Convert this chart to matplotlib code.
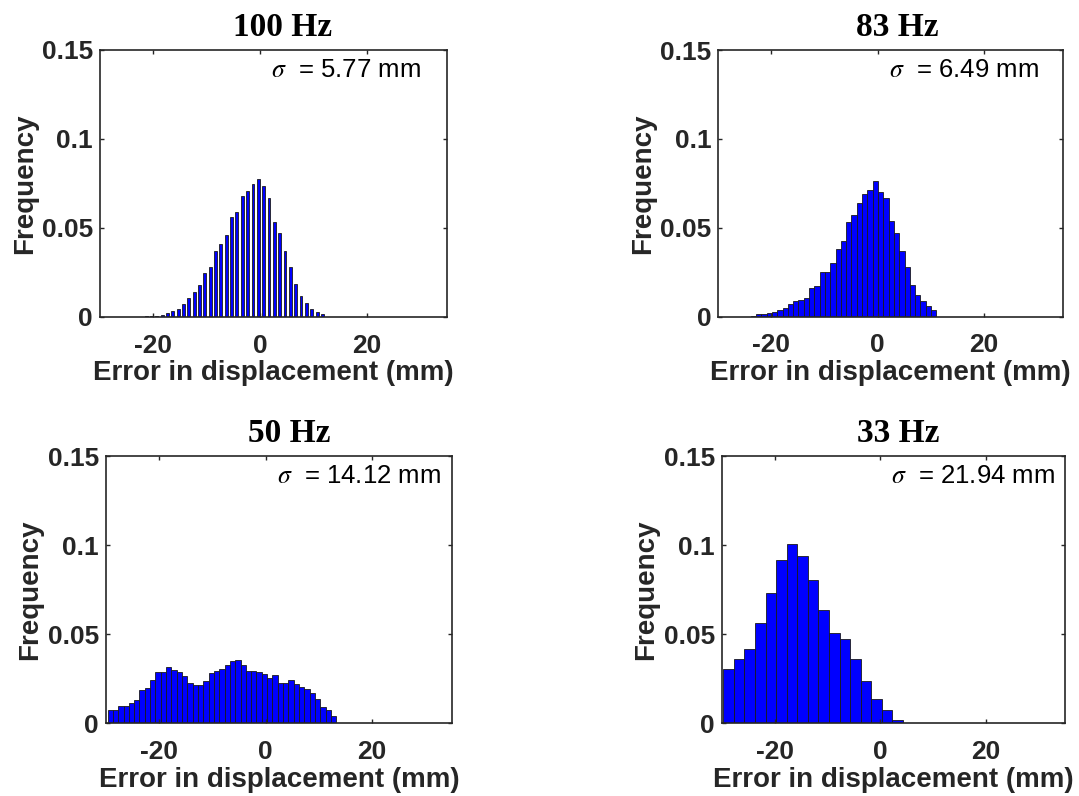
## histograms of displacement error at four sampling rates

from matplotlib import pyplot as plt
import numpy as np

plt.rcParams['font.family'] = ['Liberation Sans', 'DejaVu Sans']
plt.rcParams['mathtext.fontset'] = 'stix'
plt.rcParams['axes.unicode_minus'] = False

## 100 Hz, 1 mm bins (bar centres at k - 0.35)
k100 = np.arange(-27, 13)
f100 = [0.0001, 0.0001, 0.0001, 0.0001, 0.0002, 0.0002, 0.0003, 0.0003,
        0.0006, 0.0009, 0.0021, 0.0034, 0.0047, 0.0073, 0.0109, 0.0140,
        0.0180, 0.0245, 0.0279, 0.0373, 0.0410, 0.0459, 0.0562, 0.0592,
        0.0678, 0.0710, 0.0747, 0.0773, 0.0736, 0.0667, 0.0532, 0.0474,
        0.0369, 0.0283, 0.0187, 0.0120, 0.0077, 0.0047, 0.0028, 0.0015]

## 83 Hz, 1 mm bins (centres at k - 0.4)
k83 = np.arange(-23, 12)
f83 = [0.0006, 0.0013, 0.0015, 0.0019, 0.0025, 0.0038, 0.0047, 0.0070,
       0.0091, 0.0095, 0.0106, 0.0161, 0.0174, 0.0250, 0.0254, 0.0303,
       0.0383, 0.0428, 0.0532, 0.0570, 0.0640, 0.0688, 0.0714, 0.0763,
       0.0699, 0.0669, 0.0536, 0.0473, 0.0369, 0.0280, 0.0180, 0.0125,
       0.0087, 0.0061, 0.0038]

## 50 Hz, 1 mm bins (centres at k - 0.2)
k50 = np.arange(-29, 14)
f50 = [0.0077, 0.0073, 0.0096, 0.0096, 0.0114, 0.0133, 0.0189, 0.0200,
       0.0242, 0.0290, 0.0287, 0.0316, 0.0300, 0.0287, 0.0264, 0.0225,
       0.0215, 0.0215, 0.0238, 0.0285, 0.0292, 0.0307, 0.0328, 0.0350,
       0.0356, 0.0328, 0.0296, 0.0292, 0.0288, 0.0275, 0.0253, 0.0270,
       0.0228, 0.0228, 0.0243, 0.0219, 0.0204, 0.0191, 0.0169, 0.0139,
       0.0094, 0.0073, 0.0043]

## 33 Hz, 2 mm bins
c33 = [-28.7, -26.7, -24.7, -22.7, -20.7, -18.7, -16.7, -14.7, -12.7, -10.7,
       -8.7, -6.7, -4.7, -2.7, -0.7, 1.3, 3.3, 5.3, 7.3, 9.3]
f33 = [0.0303, 0.0361, 0.0418, 0.0564, 0.0732, 0.0918, 0.1004, 0.0940,
       0.0805, 0.0635, 0.0506, 0.0474, 0.0361, 0.0240, 0.0139, 0.0077,
       0.0017, 0.0003, 0.0002, 0.0001]

titles = ['100 Hz', '83 Hz', '50 Hz', '33 Hz']
sigmas = ['5.77', '6.49', '14.12', '21.94']

panels = [
    (k100 - 0.35, f100, 0.55),
    (k83 - 0.4, f83, 1.0),
    (k50 - 0.2, f50, 1.0),
    (np.array(c33), f33, 2.0),
]

## axes boxes in figure fraction [left, bottom, width, height]
boxes = [
    [0.0927, 0.6018, 0.3216, 0.3354],
    [0.6657, 0.6021, 0.3197, 0.3350],
    [0.0982, 0.0913, 0.3204, 0.3358],
    [0.6689, 0.0913, 0.3182, 0.3358],
]
title_x = [0.525, 0.52, 0.53, 0.515]

grey = '#262626'
fig = plt.figure(figsize=(10.79, 7.96), dpi=100)

for i in range(4):
    ax = fig.add_axes(boxes[i])
    x, f, w = panels[i]
    ax.bar(x, f, width=w, color='#0000ff', edgecolor='#1a1a1a', linewidth=0.6)
    ax.set_xlim(-30, 35)
    ax.set_ylim(0, 0.15)
    ax.set_xticks([-20, 0, 20])
    ax.set_yticks([0, 0.05, 0.1, 0.15])
    ax.set_yticklabels(['0', '0.05', '0.1', '0.15'])
    ax.tick_params(direction='in', length=3, width=1, colors=grey,
                   top=True, right=True, labelsize=19)
    ax.tick_params(axis='x', pad=12)
    ax.tick_params(axis='y', pad=5)
    for lab in ax.get_xticklabels() + ax.get_yticklabels():
        lab.set_fontweight('bold')
    for s in ax.spines.values():
        s.set_color(grey)
        s.set_linewidth(1.2)
    ax.set_xlabel('Error in displacement (mm)', fontsize=20, fontweight='bold',
                  color=grey, labelpad=2)
    ax.set_ylabel('Frequency', fontsize=20, fontweight='bold', color=grey,
                  labelpad=3)
    ax.set_title(titles[i], fontsize=24, fontweight='bold',
                 family='Liberation Serif', x=title_x[i], pad=10)
    ax.text(0.494, 0.925, r'$\sigma$  = ' + sigmas[i] + ' mm',
            transform=ax.transAxes, ha='left', va='center', fontsize=18.5,
            color='black')

plt.savefig('out.png', dpi=100)
